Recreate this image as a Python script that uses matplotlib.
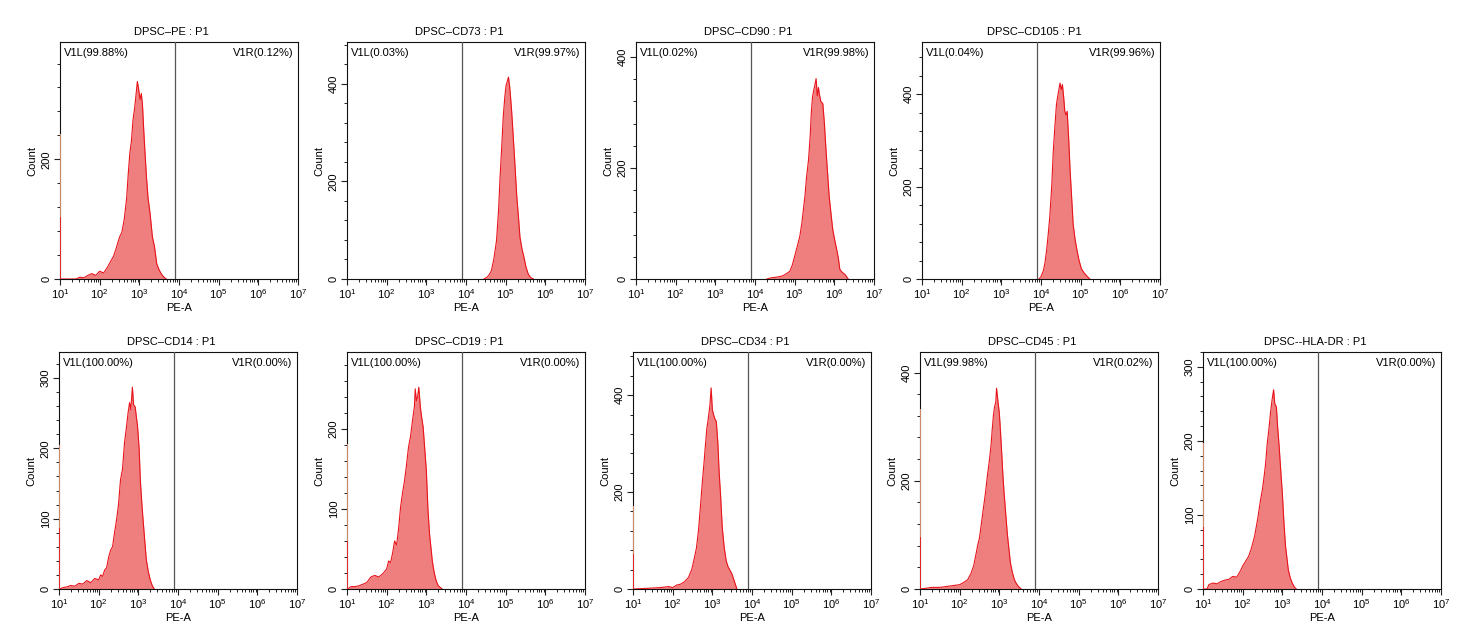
import numpy as np
import matplotlib
matplotlib.use("Agg")
import matplotlib.pyplot as plt
from matplotlib.ticker import MultipleLocator, LogLocator, FixedLocator, FixedFormatter, NullFormatter

plt.rcParams['font.family'] = ['Liberation Sans', 'DejaVu Sans']
plt.rcParams['mathtext.fontset'] = 'custom'
plt.rcParams['mathtext.rm'] = 'Liberation Sans'
plt.rcParams['mathtext.it'] = 'Liberation Sans'
plt.rcParams['mathtext.bf'] = 'Liberation Sans'

# ---------------- data (log10 of PE-A, counts) ----------------
titles = ["DPSC\u2013PE : P1", "DPSC\u2013CD73 : P1", "DPSC\u2013CD90 : P1", "DPSC\u2013CD105 : P1",
          "DPSC\u2013CD14 : P1", "DPSC\u2013CD19 : P1", "DPSC\u2013CD34 : P1", "DPSC\u2013CD45 : P1",
          "DPSC--HLA-DR : P1"]
left_gate = ["V1L(99.88%)", "V1L(0.03%)", "V1L(0.02%)", "V1L(0.04%)",
             "V1L(100.00%)", "V1L(100.00%)", "V1L(100.00%)", "V1L(99.98%)", "V1L(100.00%)"]
right_gate = ["V1R(0.12%)", "V1R(99.97%)", "V1R(99.98%)", "V1R(99.96%)",
              "V1R(0.00%)", "V1R(0.00%)", "V1R(0.00%)", "V1R(0.02%)", "V1R(0.00%)"]
y_max = [396, 486, 427, 513, 337, 296, 489, 438, 320]
y_major = [200, 200, 200, 200, 100, 100, 200, 200, 100]
spike_hi = [242, 0, 0, 0, 205, 181, 171, 332, 197]
spike_lo = [103, 0, 0, 0, 87, 60, 72, 97, 84]
gate_log = 3.89
x_ticks = [1, 2, 3, 4, 5, 6, 7]

pe_x = [1.02, 1.4, 1.5, 1.6, 1.7, 1.8, 1.9, 2.0, 2.1, 2.2, 2.28, 2.35, 2.42, 2.5, 2.56, 2.62, 2.68, 2.72,
        2.76, 2.8, 2.84, 2.88, 2.92, 2.95, 2.98, 3.02, 3.05, 3.08, 3.11, 3.14, 3.18, 3.22, 3.27, 3.33,
        3.38, 3.44, 3.5, 3.56, 3.62, 3.68]
pe_y = [0, 0, 3, 2, 6, 9, 6, 13, 10, 20, 30, 38, 52, 70, 78, 100, 135, 175, 210, 230, 265, 285, 310,
        330, 318, 300, 310, 290, 250, 214, 170, 135, 110, 70, 55, 25, 15, 8, 3, 0]

cd73_x = [4.45, 4.52, 4.58, 4.64, 4.7, 4.77, 4.82, 4.86, 4.9, 4.94, 4.98, 5.01, 5.04, 5.07, 5.1, 5.12,
          5.15, 5.19, 5.23, 5.28, 5.32, 5.36, 5.41, 5.46, 5.51, 5.57, 5.63, 5.7]
cd73_y = [0, 3, 8, 17, 40, 79, 140, 210, 270, 334, 375, 397, 405, 414, 395, 376, 345, 293, 240, 169,
          130, 86, 62, 45, 25, 10, 3, 0]

cd90_x = [4.3, 4.4, 4.5, 4.6, 4.71, 4.8, 4.88, 4.94, 5.0, 5.07, 5.13, 5.18, 5.22, 5.26, 5.3, 5.35,
          5.39, 5.42, 5.45, 5.48, 5.51, 5.54, 5.57, 5.6, 5.62, 5.66, 5.71, 5.75, 5.79, 5.83, 5.87,
          5.92, 5.96, 6.01, 6.06, 6.1, 6.14, 6.2, 6.27, 6.35]
cd90_y = [0, 2, 3, 4, 6, 10, 14, 25, 41, 60, 77, 100, 125, 150, 184, 215, 256, 300, 328, 340, 350,
          361, 330, 345, 334, 320, 316, 280, 232, 190, 149, 115, 89, 70, 53, 38, 17, 12, 8, 0]

cd105_x = [3.95, 4.0, 4.06, 4.1, 4.14, 4.18, 4.22, 4.27, 4.31, 4.35, 4.39, 4.43, 4.48, 4.51, 4.54,
           4.57, 4.6, 4.63, 4.66, 4.7, 4.73, 4.77, 4.81, 4.86, 4.91, 4.96, 5.02, 5.08, 5.15, 5.23]
cd105_y = [0, 5, 18, 35, 61, 95, 133, 200, 277, 330, 378, 400, 424, 410, 421, 395, 363, 355, 363,
           300, 241, 180, 119, 85, 61, 40, 22, 14, 7, 0]

cd14_x = [1.02, 1.1, 1.2, 1.3, 1.4, 1.5, 1.6, 1.7, 1.8, 1.9, 2.0, 2.05, 2.1, 2.15, 2.2, 2.25, 2.3,
          2.35, 2.4, 2.45, 2.5, 2.55, 2.6, 2.65, 2.7, 2.74, 2.78, 2.81, 2.85, 2.88, 2.92, 2.95, 2.98,
          3.02, 3.05, 3.09, 3.12, 3.16, 3.2, 3.25, 3.3, 3.35, 3.4]
cd14_y = [0, 2, 3, 5, 4, 8, 7, 12, 9, 15, 13, 20, 18, 27, 30, 45, 55, 60, 80, 98, 120, 155, 170, 207,
          230, 250, 265, 255, 287, 262, 259, 245, 231, 200, 155, 120, 98, 70, 42, 25, 13, 5, 0]

cd19_x = [1.02, 1.1, 1.2, 1.3, 1.4, 1.5, 1.6, 1.7, 1.8, 1.9, 2.0, 2.05, 2.1, 2.15, 2.2, 2.25, 2.3,
          2.35, 2.4, 2.45, 2.5, 2.55, 2.6, 2.65, 2.7, 2.72, 2.75, 2.78, 2.81, 2.85, 2.88, 2.92, 2.96,
          3.0, 3.04, 3.08, 3.12, 3.15, 3.2, 3.25, 3.3, 3.4]
cd19_y = [0, 3, 3, 4, 6, 8, 15, 17, 15, 19, 25, 35, 33, 45, 60, 55, 75, 102, 120, 135, 155, 177, 190,
          210, 228, 250, 235, 240, 252, 227, 215, 202, 175, 148, 100, 69, 50, 35, 20, 10, 4, 0]

cd34_x = [1.02, 1.5, 1.7, 1.9, 2.0, 2.1, 2.2, 2.3, 2.4, 2.48, 2.55, 2.6, 2.65, 2.7, 2.75, 2.79, 2.82,
          2.86, 2.9, 2.94, 2.97, 3.0, 3.03, 3.07, 3.1, 3.14, 3.17, 3.21, 3.25, 3.3, 3.35, 3.4, 3.45,
          3.5, 3.55, 3.62]
cd34_y = [0, 2, 3, 5, 3, 8, 10, 15, 24, 40, 65, 85, 120, 170, 223, 260, 291, 330, 353, 380, 415, 370,
          360, 350, 346, 300, 243, 190, 127, 85, 58, 45, 38, 30, 17, 0]

cd45_x = [1.02, 1.3, 1.5, 1.7, 1.9, 2.0, 2.1, 2.2, 2.28, 2.35, 2.4, 2.45, 2.5, 2.55, 2.6, 2.65, 2.7,
          2.75, 2.79, 2.82, 2.85, 2.88, 2.91, 2.93, 2.96, 3.0, 3.03, 3.06, 3.09, 3.12, 3.16, 3.2,
          3.24, 3.28, 3.33, 3.38, 3.43, 3.48, 3.55]
cd45_y = [0, 3, 3, 5, 7, 8, 12, 17, 28, 42, 60, 79, 95, 122, 150, 177, 210, 238, 265, 294, 320, 337,
          345, 371, 350, 325, 290, 251, 210, 177, 140, 103, 75, 48, 30, 17, 10, 5, 0]

hla_x = [1.02, 1.1, 1.15, 1.25, 1.35, 1.45, 1.55, 1.65, 1.75, 1.85, 1.95, 2.0, 2.08, 2.15, 2.22, 2.3,
         2.38, 2.45, 2.5, 2.55, 2.58, 2.62, 2.66, 2.7, 2.74, 2.78, 2.81, 2.85, 2.88, 2.92, 2.96, 3.0,
         3.04, 3.08, 3.12, 3.15, 3.2, 3.25, 3.3, 3.35]
hla_y = [0, 0, 6, 8, 7, 10, 12, 13, 17, 16, 25, 31, 38, 44, 55, 71, 95, 120, 135, 156, 170, 197, 215,
         237, 255, 269, 250, 246, 220, 192, 160, 129, 90, 58, 40, 26, 15, 8, 3, 0]

series_x = [pe_x, cd73_x, cd90_x, cd105_x, cd14_x, cd19_x, cd34_x, cd45_x, hla_x]
series_y = [pe_y, cd73_y, cd90_y, cd105_y, cd14_y, cd19_y, cd34_y, cd45_y, hla_y]

# ---------------- layout ----------------
W, H = 1465, 644
fig = plt.figure(figsize=(W / 100, H / 100), dpi=100)
fig.patch.set_facecolor('white')

lefts_px = [60, 347, 636, 922, 59, 347, 633, 920, 1203]
tops_px = [42, 42, 42, 42, 352, 352, 352, 352, 352]
aw, ah = 238, 237

FILL = '#EF7F7F'
EDGE = '#E8141B'
FS = 8

for i in range(9):
    l, t = lefts_px[i], tops_px[i]
    ax = fig.add_axes([l / W, 1 - (t + ah) / H, aw / W, ah / H])
    xs = 10 ** np.asarray(series_x[i])
    ys = np.asarray(series_y[i])
    ax.fill_between(xs, 0, ys, color=FILL, lw=0, zorder=2)
    ax.plot(xs, ys, color=EDGE, lw=0.8, zorder=3)
    if spike_hi[i] > 0:
        ax.vlines(10 ** 1.004, 0, spike_hi[i], color='#F3A27A', lw=1.2, zorder=3)
        ax.vlines(10 ** 1.004, 0, spike_lo[i], color=EDGE, lw=1.2, zorder=4)
    ax.axvline(10 ** gate_log, color='#555555', lw=0.9, zorder=4)

    ax.set_xscale('log')
    ax.set_xlim(10 ** 1, 10 ** 7)
    ax.set_ylim(0, y_max[i])

    ax.xaxis.set_major_locator(FixedLocator([10.0 ** k for k in x_ticks]))
    ax.xaxis.set_major_formatter(FixedFormatter([r'$10^{%d}$' % k for k in x_ticks]))
    ax.xaxis.set_minor_locator(LogLocator(base=10, subs=np.arange(2, 10), numticks=20))
    ax.xaxis.set_minor_formatter(NullFormatter())
    ax.yaxis.set_major_locator(MultipleLocator(y_major[i]))
    ax.yaxis.set_minor_locator(MultipleLocator(y_major[i] / 5))

    ax.tick_params(axis='both', which='major', direction='out', length=4, width=0.8,
                   labelsize=FS, pad=2, color='#222222')
    ax.tick_params(axis='both', which='minor', direction='out', length=2.5, width=0.7,
                   color='#222222')
    for lab in ax.get_yticklabels():
        lab.set_rotation(90)
        lab.set_va('center')
    for sp in ax.spines.values():
        sp.set_linewidth(0.8)
        sp.set_color('#111111')

    ax.set_xlabel('PE-A', fontsize=FS, labelpad=1)
    ax.set_ylabel('Count', fontsize=FS, labelpad=3)
    ax.text(0.47, 1.02, titles[i], transform=ax.transAxes, ha='center', va='bottom', fontsize=FS)
    ax.text(0.018, 0.955, left_gate[i], transform=ax.transAxes, ha='left', va='center', fontsize=FS)
    ax.text(0.982, 0.955, right_gate[i], transform=ax.transAxes, ha='right', va='center', fontsize=FS)

fig.savefig('out.png', dpi=100, facecolor='white')
